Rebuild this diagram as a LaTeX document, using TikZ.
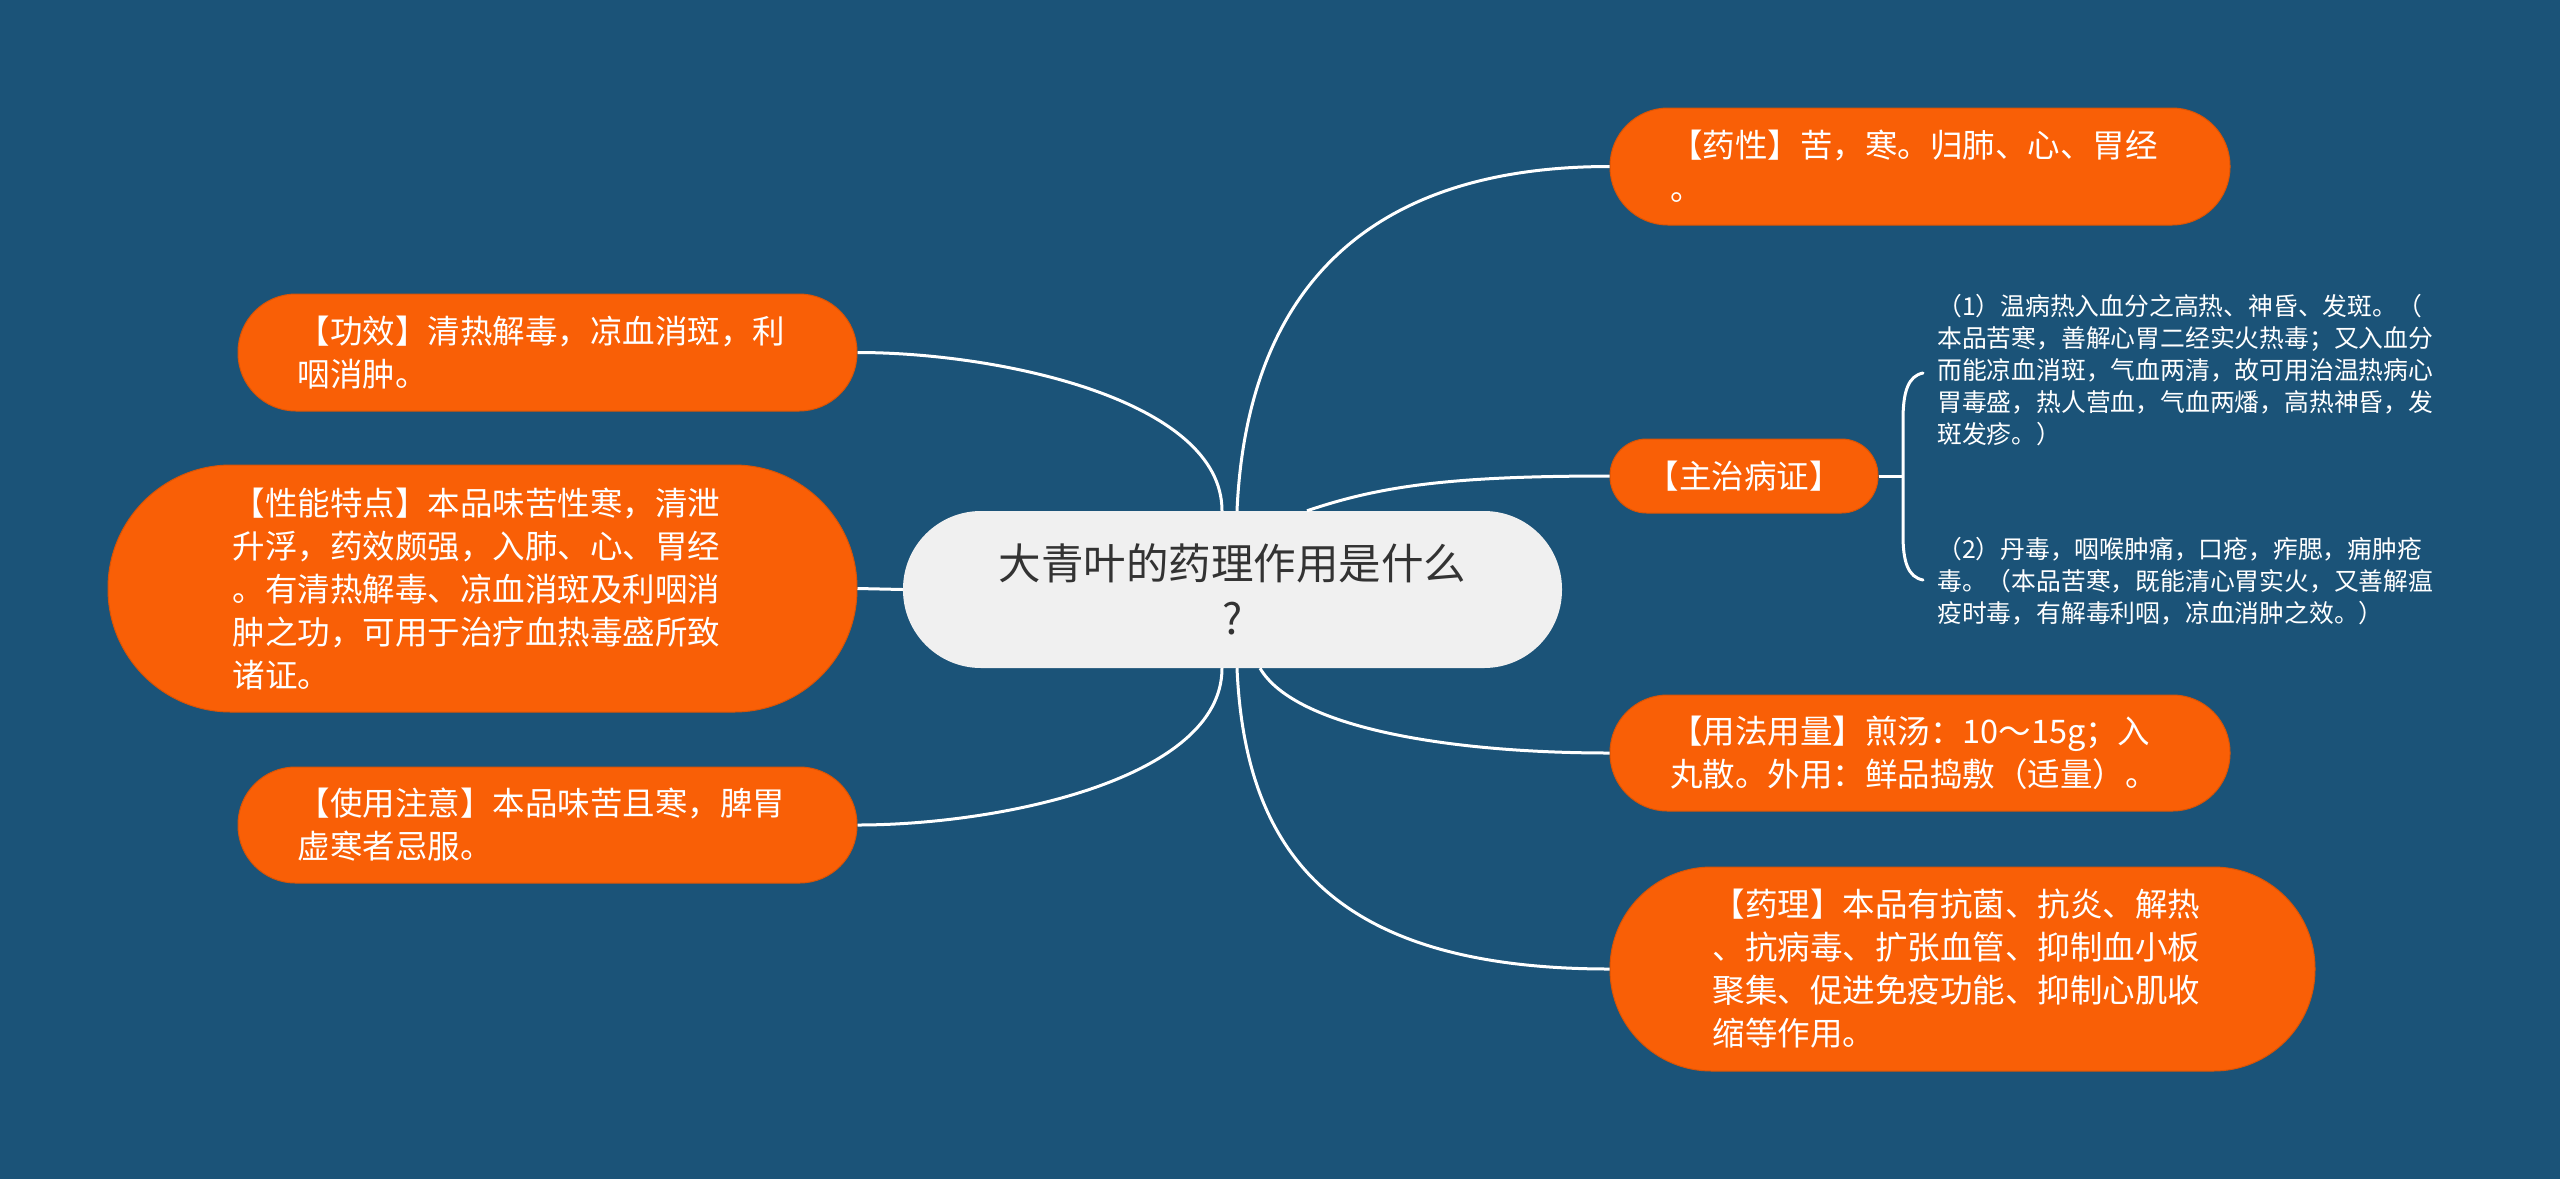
\documentclass[tikz,border=0pt]{standalone}
\usepackage{fontspec}
\newfontfamily\cjk{Noto Sans CJK SC}
\definecolor{bgblue}{RGB}{27,83,120}
\definecolor{nodeorange}{RGB}{249,95,6}
\definecolor{centerfill}{RGB}{240,240,240}
\definecolor{centertext}{RGB}{51,51,51}
\begin{document}
\begin{tikzpicture}[x=1pt,y=-1pt,
  topic/.style={fill=nodeorange, draw=nodeorange!88!black, line width=1pt, text=white, inner sep=0pt,
    font=\cjk\fontsize{32.5}{43}\selectfont, align=left},
  link/.style={draw=white, line width=3pt},
  note/.style={text=white, inner sep=0pt, anchor=west, align=left,
    font=\cjk\fontsize{24.8}{32}\selectfont}]
\useasboundingbox (0,0) rectangle (2560,1179);
\fill[bgblue] (0,0) rectangle (2560,1179);

% central topic
\node[fill=centerfill, text=centertext, inner sep=0pt, minimum width=659pt, minimum height=157pt,
  rounded corners=78pt, align=center, font=\cjk\fontsize{42.5}{55.5}\selectfont]
  (root) at (1232.5,589.5) {大青叶的药理作用是什么\\?};

% right branches
\node[topic, minimum width=620pt, minimum height=117pt, rounded corners=58pt, text width=500pt]
  (yaoxing) at (1920,166.5) {【药性】苦，寒。归肺、心、胃经\\。};
\node[topic, minimum width=268pt, minimum height=74pt, rounded corners=36.5pt]
  (zhuzhi) at (1744,476) {【主治病证】};
\node[topic, minimum width=620pt, minimum height=116pt, rounded corners=57.5pt, text width=500pt]
  (yongfa) at (1920,753) {【用法用量】煎汤：10～15g；入\\丸散。外用：鲜品捣敷（适量）。};
\node[topic, minimum width=705pt, minimum height=204pt, rounded corners=101.5pt, text width=500pt]
  (yaoli) at (1962.5,969) {【药理】本品有抗菌、抗炎、解热\\、抗病毒、扩张血管、抑制血小板\\聚集、促进免疫功能、抑制心肌收\\缩等作用。};

% left branches
\node[topic, minimum width=619pt, minimum height=117pt, rounded corners=58pt, text width=500pt]
  (gongxiao) at (547.5,352.5) {【功效】清热解毒，凉血消斑，利\\咽消肿。};
\node[topic, minimum width=749pt, minimum height=247pt, rounded corners=123pt, text width=500pt]
  (xingneng) at (482.5,588.5) {【性能特点】本品味苦性寒，清泄\\升浮，药效颇强，入肺、心、胃经\\。有清热解毒、凉血消斑及利咽消\\肿之功，可用于治疗血热毒盛所致\\诸证。};
\node[topic, minimum width=619pt, minimum height=116pt, rounded corners=57.5pt, text width=500pt]
  (shiyong) at (547.5,825) {【使用注意】本品味苦且寒，脾胃\\虚寒者忌服。};

% sub notes of 主治病证
\node[note] (note1) at (1937,370.5) {（1）温病热入血分之高热、神昏、发斑。（\\本品苦寒，善解心胃二经实火热毒；又入血分\\而能凉血消斑，气血两清，故可用治温热病心\\胃毒盛，热人营血，气血两燔，高热神昏，发\\斑发疹。）};
\node[note] (note2) at (1937,581) {（2）丹毒，咽喉肿痛，口疮，痄腮，痈肿疮\\毒。（本品苦寒，既能清心胃实火，又善解瘟\\疫时毒，有解毒利咽，凉血消肿之效。）};

% connectors
\draw[link] ([xshift=4.5pt]root.north) .. controls (1245,330) and (1330,166.5) .. (yaoxing.west);
\draw[link] ([xshift=74.5pt]root.north) .. controls (1380,486) and (1450,476) .. (zhuzhi.west);
\draw[link] ([xshift=27.5pt]root.south) .. controls (1295,728) and (1450,753) .. (yongfa.west);
\draw[link] ([xshift=4.5pt]root.south) .. controls (1245,850) and (1330,969) .. (yaoli.west);
\draw[link] ([xshift=-10.5pt]root.north) .. controls (1222,400) and (1000,352.5) .. (gongxiao.east);
\draw[link] (root.west) -- (xingneng.east);
\draw[link] ([xshift=-10.5pt]root.south) .. controls (1222,779) and (1000,825) .. (shiyong.east);

% bracket
\coordinate (bjoin) at (1903,476);
\coordinate (btop) at (1923,373);
\coordinate (bbot) at (1923,580);
\draw[link] (zhuzhi.east) -- (bjoin);
\draw[link, line cap=round] (btop) .. controls (1908,376) and (1903,392) .. (1903,420) -- (1903,535)
  .. controls (1903,562) and (1908,577) .. (bbot);
\end{tikzpicture}
\end{document}
